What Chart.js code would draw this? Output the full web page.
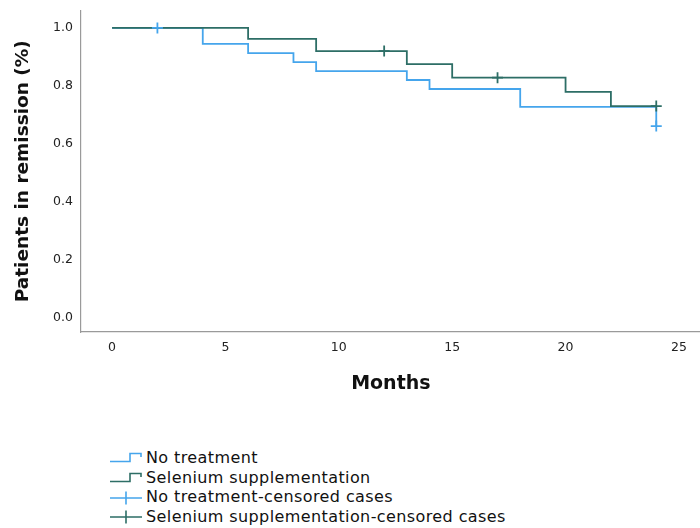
<!DOCTYPE html>
<html>
<head>
<meta charset="utf-8">
<script src="https://cdn.jsdelivr.net/npm/chart.js@4/dist/chart.umd.min.js"></script>
<style>
  html, body { margin: 0; padding: 0; background: #fff; }
  #wrap { position: relative; width: 700px; height: 528px; overflow: hidden; }
  #chart { position: absolute; left: 0; top: -5px; }
  #legend { position: absolute; left: 110px; top: 448px; font-family: "DejaVu Sans", sans-serif; font-size: 16px; letter-spacing: 0.4px; color: #111; }
  .row { height: 19.7px; line-height: 19.7px; display: flex; align-items: center; white-space: nowrap; }
  .row svg { width: 36px; height: 19px; flex: none; }
</style>
</head>
<body>
<div id="wrap">
  <canvas id="chart" width="708" height="405"></canvas>
  <div id="legend"></div>
</div>
<script>
// --- Data ---
const noTreatMonths = [0, 4, 6, 8, 9, 13, 14, 18, 24];
const noTreatSurv   = [1.0, 0.945, 0.913, 0.882, 0.851, 0.82, 0.789, 0.727, 0.661];
const seleniumMonths = [0, 6, 9, 13, 15, 20, 22, 24];
const seleniumSurv   = [1.0, 0.962, 0.92, 0.875, 0.828, 0.779, 0.73, 0.73];
const noTreatCensMonths = [2, 24];
const noTreatCensSurv   = [1.0, 0.661];
const seleniumCensMonths = [12, 17, 24];
const seleniumCensSurv   = [0.92, 0.828, 0.73];
const xTicks = [0, 5, 10, 15, 20, 25];
const yTicks = [0, 0.2, 0.4, 0.6, 0.8, 1.0];
const seriesNames = ["No treatment", "Selenium supplementation", "No treatment-censored cases", "Selenium supplementation-censored cases"];

const BLUE = "#45a5ec";
const TEAL = "#2d6e66";

const toPts = (xs, ys) => xs.map((x, i) => ({ x: x, y: ys[i] }));

new Chart(document.getElementById("chart"), {
  type: "line",
  data: {
    datasets: [
      { label: seriesNames[0], data: toPts(noTreatMonths, noTreatSurv), borderColor: BLUE, borderWidth: 1.8, stepped: "before", pointRadius: 0, fill: false, order: 4 },
      { label: seriesNames[1], data: toPts(seleniumMonths, seleniumSurv), borderColor: TEAL, borderWidth: 1.8, stepped: "before", pointRadius: 0, fill: false, order: 3 },
      { label: seriesNames[2], type: "scatter", data: toPts(noTreatCensMonths, noTreatCensSurv), borderColor: BLUE, pointStyle: "cross", pointRadius: 5.5, pointBorderWidth: 1.8, order: 2 },
      { label: seriesNames[3], type: "scatter", data: toPts(seleniumCensMonths, seleniumCensSurv), borderColor: TEAL, pointStyle: "cross", pointRadius: 5.5, pointBorderWidth: 1.8, order: 1 }
    ]
  },
  options: {
    responsive: false,
    animation: false,
    layout: { padding: { top: 5, right: 0, bottom: 0, left: 0 } },
    plugins: { legend: { display: false }, tooltip: { enabled: false } },
    scales: {
      x: {
        type: "linear",
        min: -1.37, max: 25.96,
        afterBuildTicks: s => { s.ticks = xTicks.map(v => ({ value: v })); },
        afterFit: s => { s.height = 68; },
        grid: { display: false, drawTicks: false },
        border: { display: true, color: "#9a9a9a", width: 1.2 },
        ticks: { padding: 8, color: "#222", font: { family: "DejaVu Sans", size: 12.5 }, maxRotation: 0 },
        title: { display: true, text: "Months", color: "#111", font: { family: "DejaVu Sans", size: 19, weight: "bold" }, padding: { top: 0, bottom: 5 } }
      },
      y: {
        min: -0.05, max: 1.06,
        afterBuildTicks: s => { s.ticks = yTicks.map(v => ({ value: v })); },
        afterFit: s => { s.width = 81; },
        grid: { display: false, drawTicks: false },
        border: { display: true, color: "#9a9a9a", width: 1.2 },
        ticks: { padding: 8, color: "#222", font: { family: "DejaVu Sans", size: 12.5 }, callback: v => v.toFixed(1) },
        title: { display: true, text: "Patients in remission (%)", color: "#111", font: { family: "DejaVu Sans", size: 18.5, weight: "bold" }, padding: { top: 12, bottom: 0 } }
      }
    }
  }
});

// --- Legend (HTML, icons drawn as small svgs) ---
const stepIcon = c => `<svg viewBox="0 0 36 19"><path d="M0 13.5 H20 V5.5 H31 V9" fill="none" stroke="${c}" stroke-width="1.6"/></svg>`;
const crossIcon = c => `<svg viewBox="0 0 36 19"><path d="M0 10 H32 M16 3.5 V16.5" fill="none" stroke="${c}" stroke-width="1.6"/></svg>`;
const legendIcons = [stepIcon(BLUE), stepIcon(TEAL), crossIcon(BLUE), crossIcon(TEAL)];
document.getElementById("legend").innerHTML = seriesNames
  .map((name, i) => `<div class="row">${legendIcons[i]}<span>${name}</span></div>`)
  .join("");
</script>
</body>
</html>
